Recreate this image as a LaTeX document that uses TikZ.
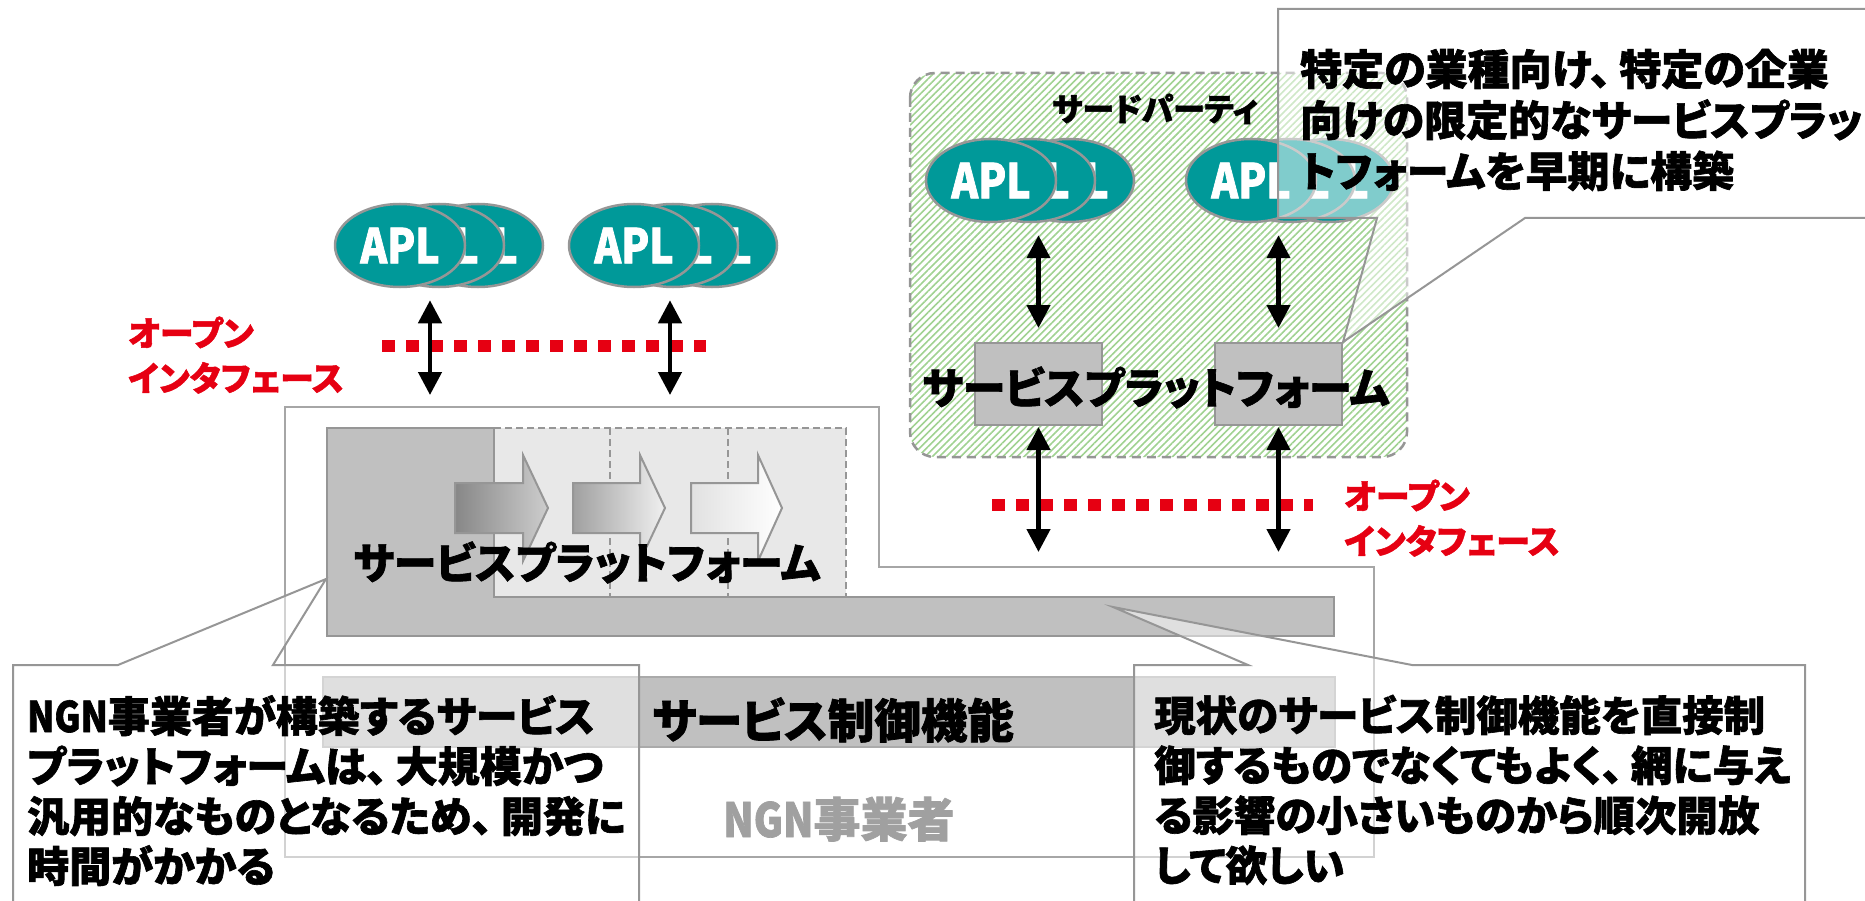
\documentclass[tikz,border=0pt]{standalone}
\usepackage{fontspec}
\newfontfamily\jp[RawFeature=+palt, BoldFeatures={FakeBold=1.5}]{Noto Sans CJK JP}
\newfontfamily\jpnarrow[FakeStretch=0.85, BoldFeatures={FakeBold=1.5}]{Noto Sans CJK JP}
\usetikzlibrary{arrows.meta,shapes.geometric,patterns.meta}

\definecolor{aplteal}{RGB}{0,153,153}
\definecolor{edgegray}{RGB}{150,150,150}
\definecolor{framegray}{RGB}{166,166,166}
\definecolor{boxgray}{RGB}{192,192,192}
\definecolor{lightarea}{RGB}{232,232,232}
\definecolor{ifred}{RGB}{230,0,18}
\definecolor{hatchgreen}{RGB}{160,210,145}
\definecolor{labelgray}{RGB}{160,160,160}

% ideographic comma with a little extra room after it
\newcommand{\tou}{、\kern0.2em}
% condensed Latin letters
\newcommand{\ngn}{{\jpnarrow\bfseries NGN}}

\tikzset{
  apl/.style={ellipse, draw=edgegray, line width=2.5pt, fill=aplteal,
    minimum width=130pt, minimum height=83pt, inner sep=0pt, text=white,
    font=\jpnarrow\bfseries\fontsize{48}{48}\selectfont},
  dbl/.style={line width=4.5pt,
    {Triangle[length=23pt,width=23pt]}-{Triangle[length=23pt,width=23pt]}},
  ifline/.style={ifred, line width=12pt, dash pattern=on 12.5pt off 11.5pt},
  iflabel/.style={text=ifred, font=\jp\bfseries\fontsize{34}{45}\selectfont,
    inner sep=0pt, align=left, anchor=base west},
  pfbox/.style={draw=edgegray, line width=2pt, fill=boxgray,
    minimum width=127pt, minimum height=82pt, inner sep=0pt},
  bigtext/.style={font=\jp\bfseries\fontsize{43}{43}\selectfont,
    inner sep=0pt, anchor=base west},
  callout/.style={draw=edgegray, line width=2pt, fill=white, fill opacity=0.5},
  callouttext/.style={font=\jp\bfseries\fontsize{42}{50}\selectfont,
    inner sep=0pt, align=left, anchor=base west},
  blockarrow/.style={draw=edgegray, line width=2pt},
  divider/.style={edgegray, line width=1.8pt, dash pattern=on 7pt off 4pt},
}

\begin{document}
\begin{tikzpicture}[x=1pt, y=-1pt]
\useasboundingbox (0,0) rectangle (1865,901);
\clip (0,0) rectangle (1865,901);

% ---------------- NGN operator side ----------------
\coordinate (ngnTop) at (285,407);
\coordinate (ngnStep) at (879,567);
\draw[framegray, line width=2pt, fill=white]
  (ngnTop) -- (879,407) -- (ngnStep) -- (1374,567) -- (1374,857) -- (285,857) -- cycle;

% service control function bar
\draw[draw={rgb,255:red,170;green,170;blue,170}, line width=2pt, fill=boxgray]
  (323,677) rectangle (1335,747);
\node[bigtext, font=\jp\bfseries\fontsize{46.5}{46.5}\selectfont] (ctrl) at (652,738) {サービス制御機能};
\node[bigtext, font=\jp\bfseries\fontsize{47}{47}\selectfont, text=labelgray] (ngnlabel) at (723,837) {\ngn 事業者};

% service platform built by the NGN operator
\fill[lightarea] (494,428) rectangle (846,597);
\draw[draw=edgegray, line width=2pt, fill=boxgray]
  (327,428) -- (494,428) -- (494,597) -- (1334,597) -- (1334,636) -- (327,636) -- cycle;
\draw[divider] (494,428) -- (846,428) -- (846,597);
\draw[divider] (610,428) -- (610,597);
\draw[divider] (728,428) -- (728,597);

% growth arrows
\draw[blockarrow, left color={rgb,255:red,135;green,135;blue,135}, right color={rgb,255:red,205;green,205;blue,205}]
  (455,483) -- (523,483) -- (523,455) -- (548,508) -- (523,561) -- (523,533) -- (455,533) -- cycle;
\draw[blockarrow, left color={rgb,255:red,160;green,160;blue,160}, right color={rgb,255:red,240;green,240;blue,240}]
  (573,483) -- (640,483) -- (640,455) -- (665,508) -- (640,561) -- (640,533) -- (573,533) -- cycle;
\draw[blockarrow, left color={rgb,255:red,225;green,225;blue,225}, right color=white]
  (691,483) -- (758,483) -- (758,455) -- (782,508) -- (758,561) -- (758,533) -- (691,533) -- cycle;

\node[bigtext] (pfNGN) at (353,579) {サービスプラットフォーム};

% applications on the open interface
\node[apl] (a3) at (478,245.5) {APL};
\node[apl] (a2) at (439,245.5) {APL};
\node[apl] (a1) at (400,245.5) {APL};
\node[apl] (b3) at (712,245.5) {APL};
\node[apl] (b2) at (673,245.5) {APL};
\node[apl] (b1) at (634,245.5) {APL};

\coordinate (ifA) at (382,346);
\coordinate (ifB) at (706,346);
\draw[ifline] (ifA) -- (ifB);
\draw[dbl] ([xshift=30pt,yshift=-12pt]a1.south) -- ([xshift=30pt,yshift=12pt]a1.south |- ngnTop);
\draw[dbl] ([xshift=36pt,yshift=-12pt]b1.south) -- ([xshift=36pt,yshift=12pt]b1.south |- ngnTop);

\node[iflabel] (ifLabelL) at (128,391) {オープン\\インタフェース};

% ---------------- third party ----------------
\draw[edgegray, line width=2.5pt, dash pattern=on 9pt off 6pt, rounded corners=25pt,
  preaction={fill=white},
  pattern={Lines[angle=45, distance=5pt, line width=1.6pt]}, pattern color=hatchgreen]
  (910,73) rectangle (1407,457);
\node[bigtext, font=\jp\bfseries\fontsize{32}{32}\selectfont] (tp) at (1052,121) {サードパーティ};

\node[apl] (c3) at (1069,180.5) {APL};
\node[apl] (c2) at (1030,180.5) {APL};
\node[apl] (c1) at (991,180.5) {APL};
\node[apl] (d3) at (1329,180.5) {APL};
\node[apl] (d2) at (1290,180.5) {APL};
\node[apl] (d1) at (1251,180.5) {APL};

\node[pfbox] (pfL) at (1038.5,384) {};
\node[pfbox] (pfR) at (1278.5,384) {};
\node[bigtext] (pfTP) at (922,404) {サービスプラットフォーム};

\draw[dbl] ([yshift=-12pt]c1.south -| pfL.north) -- ([yshift=14pt]pfL.north);
\draw[dbl] ([yshift=-12pt]d1.south -| pfR.north) -- ([yshift=14pt]pfR.north);

\coordinate (ifC) at (992,505);
\coordinate (ifD) at (1313,505);
\draw[ifline] (ifC) -- (ifD);
\draw[dbl] ([yshift=-1pt]pfL.south) -- ([yshift=15pt]pfL.south |- ngnStep);
\draw[dbl] ([yshift=-1pt]pfR.south) -- ([yshift=15pt]pfR.south |- ngnStep);

\node[iflabel] (ifLabelR) at (1344,554) {オープン\\インタフェース};

% ---------------- callouts ----------------
\draw[callout] (1278,9) -- (1880,9) -- (1880,218) -- (1525,218) -- (pfR.north east) -- (1377,218) -- (1278,218) -- cycle;
\node[callouttext, font=\jp\bfseries\fontsize{42}{51}\selectfont] (noteTP) at (1300,187)
  {特定の業種向け\tou 特定の企業\\向けの限定的なサービスプラッ\\トフォームを早期に構築};

\draw[callout] (13,665) -- (118,665) -- (326,579) -- (273,665) -- (639,665) -- (639,920) -- (13,920) -- cycle;
\node[callouttext] (noteNGN) at (27,882)
  {\ngn 事業者が構築するサービス\\プラットフォームは\tou 大規模かつ\\汎用的なものとなるため\tou 開発に\\時間がかかる};

\draw[callout] (1134,665) -- (1248,665) -- (1113,607) -- (1412,665) -- (1805,665) -- (1805,920) -- (1134,920) -- cycle;
\node[callouttext, font=\jp\bfseries\fontsize{41.5}{50}\selectfont] (noteCtrl) at (1154,881)
  {現状のサービス制御機能を直接制\\御するものでなくてもよく\tou 網に与え\\る影響の小さいものから順次開放\\して欲しい};
\end{tikzpicture}
\end{document}
